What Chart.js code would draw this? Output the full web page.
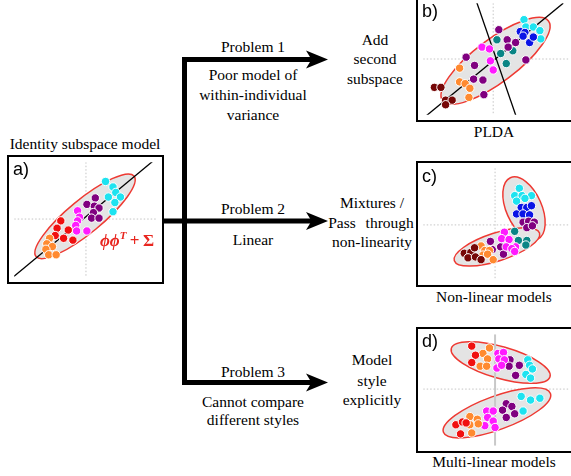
<!DOCTYPE html>
<html>
<head>
<meta charset="utf-8">
<script src="https://cdn.jsdelivr.net/npm/chart.js@4.4.1/dist/chart.umd.min.js"></script>
<style>
body{margin:0;background:#fff;}
#page{position:relative;width:571px;height:476px;overflow:hidden;font-family:"Liberation Serif","Times New Roman",serif;}
.box{position:absolute;border:2px solid #000;box-sizing:border-box;background:#fff;}
.box canvas{display:block;}
.t{position:absolute;transform:translate(-50%,-50%);white-space:nowrap;font-size:15.5px;line-height:1;color:#000;}
.lab{position:absolute;font-family:"Liberation Sans",Arial,sans-serif;font-size:18px;line-height:1;}
.eq{position:absolute;color:#e8261f;font-size:17px;font-weight:bold;white-space:nowrap;line-height:1;}
</style>
</head>
<body>
<div id="page">
<svg width="571" height="476" style="position:absolute;left:0;top:0">
  <g fill="#000">
    <rect x="162" y="218.5" width="150" height="5"/>
    <rect x="182" y="57" width="5" height="328"/>
    <rect x="182" y="57" width="130" height="5"/>
    <rect x="182" y="380" width="130" height="5"/>
    <polygon points="328,59.5 306,50.5 311.5,59.5 306,68.5"/>
    <polygon points="328,221 306,212 311.5,221 306,230"/>
    <polygon points="328,382.5 306,373.5 311.5,382.5 306,391.5"/>
  </g>
</svg>

<div class="t" style="left:85px;top:144px">Identity subspace model</div>
<div class="t" style="left:494px;top:132px">PLDA</div>
<div class="t" style="left:494px;top:297px">Non-linear models</div>
<div class="t" style="left:494px;top:462px">Multi-linear models</div>

<div class="t" style="left:253px;top:47px">Problem 1</div>
<div class="t" style="left:253px;top:75px">Poor model of</div>
<div class="t" style="left:253px;top:95px">within-individual</div>
<div class="t" style="left:253px;top:115px">variance</div>
<div class="t" style="left:375px;top:40px">Add</div>
<div class="t" style="left:375px;top:59px">second</div>
<div class="t" style="left:375px;top:79px">subspace</div>

<div class="t" style="left:253px;top:209px">Problem 2</div>
<div class="t" style="left:253px;top:240px">Linear</div>
<div class="t" style="left:372px;top:203px">Mixtures /</div>
<div class="t" style="left:371px;top:223px;word-spacing:6px">Pass through</div>
<div class="t" style="left:372px;top:242px">non-linearity</div>

<div class="t" style="left:253px;top:372px">Problem 3</div>
<div class="t" style="left:253px;top:402px">Cannot compare</div>
<div class="t" style="left:253px;top:420px">different styles</div>
<div class="t" style="left:372px;top:360px">Model</div>
<div class="t" style="left:372px;top:381px">style</div>
<div class="t" style="left:372px;top:400px">explicitly</div>
</div>

<script>
// all values in picture pixels (x right, y down)
// panel a: identity subspace model
const aCyan = [[107,178],[115,184],[118,190],[110,195],[123,195],[117,201],[115,211]];
const aPurple = [[96,196],[87,203],[95,205],[100,207],[94,212],[92,218],[100,218]];
const aMagenta = [[77,210],[79,217],[77,221],[75,226],[87,232],[76,232]];
const aRed = [[59,221],[55,229],[67,231],[53,237],[62,240],[72,242]];
const aOrange = [[47,240],[44,246],[50,249],[43,252],[46,258],[54,258]];
const aEllipses = [[85,216,68,18,39.4]];
const aLines = [[7,283,160,154]];

// panel b: PLDA
const bCyan = [[526,16],[528,24],[536,24],[543,28],[544,37]];
const bBlue = [[522,29],[527,30],[525,34],[532,41],[536,35]];
const bTeal = [[497,38],[501,53],[514,50],[507,64]];
const bPurple = [[499,27],[508,38],[517,41],[509,46],[464,57],[528,60],[473,66],[472,81],[482,82],[483,98]];
const bMagenta = [[481,46],[489,48],[490,61],[493,71]];
const bOrange = [[457,69],[457,84],[463,86],[468,91],[467,101]];
const bDarkred = [[430,90],[437,90],[442,104],[449,104],[442,109]];
const bEllipses = [[495.5,61,71,23,37]];
const bLines = [[419,123,568,-2],[475,-4,518,123]];

// panel c: non-linear models
const cCyan = [[521,185],[516,193],[524,193],[534,193],[527,196],[518,199]];
const cBlue = [[523,206],[529,206],[534,204],[518,213],[525,213],[532,214]];
const cPurple = [[525,222],[531,221],[537,222],[529,228],[535,226],[490,243],[492,252],[501,249],[504,257]];
const cTeal = [[516,232],[520,242],[529,242],[528,247]];
const cMagenta = [[505,233],[502,240],[510,241],[507,249],[517,249],[513,251],[516,254]];
const cOrange = [[480,248],[484,253],[489,253],[482,258],[487,257],[493,263]];
const cDarkred = [[462,256],[469,255],[473,250],[466,261],[474,260],[480,263]];
const cEllipses = [[526,207,36,19,-66],[497,249,48,15,18]];

// panel d: multi-linear models
const dRed = [[470,342],[474,352],[470,360],[453,428],[460,425],[464,426],[458,438]];
const dOrange = [[489,344],[482,350],[487,356],[479,364],[486,364],[468,419],[476,422],[468,428],[477,427],[470,437]];
const dMagenta = [[498,350],[504,349],[499,356],[505,357],[497,366],[502,363],[486,413],[493,413],[487,420],[493,424],[484,429],[495,431]];
const dPurple = [[511,357],[510,364],[521,363],[517,374],[507,405],[513,408],[503,412],[516,416],[507,420]];
const dCyan = [[530,357],[532,363],[535,367],[528,373],[533,377],[523,397],[533,401],[543,399],[525,413]];
const dEllipses = [[501,360,55,17,-16],[497,415,61,18,20]];

const colors = {
  cyan: '#1ee3f0', blue: '#0a14e6', purple: '#800080', magenta: '#ff1aff',
  red: '#f01010', orange: '#ff8a30', darkred: '#760808', teal: '#0a8585'
};

const shapes = {
  id: 'shapes',
  beforeDatasetsDraw(chart, args, opts) {
    const {ctx, chartArea: ca, scales: {x, y}} = chart;
    ctx.save();
    ctx.beginPath();
    ctx.rect(ca.left, ca.top, ca.width, ca.height);
    ctx.clip();
    // dotted crosshair
    const cx = x.getPixelForValue(opts.cross[0]);
    const cy = y.getPixelForValue(opts.cross[1]);
    ctx.strokeStyle = '#c4c4c4';
    ctx.lineWidth = 1;
    ctx.setLineDash([1.5, 2]);
    ctx.beginPath();
    ctx.moveTo(ca.left, cy); ctx.lineTo(ca.right, cy);
    if (!opts.solidV) { ctx.moveTo(cx, ca.top); ctx.lineTo(cx, ca.bottom); }
    ctx.stroke();
    ctx.setLineDash([]);
    // ellipses
    (opts.ellipses || []).forEach(e => {
      const px = x.getPixelForValue(e[0]), py = y.getPixelForValue(e[1]);
      const rx = Math.abs(x.getPixelForValue(e[0] + e[2]) - px);
      const ry = Math.abs(x.getPixelForValue(e[0] + e[3]) - px);
      ctx.beginPath();
      ctx.ellipse(px, py, rx, ry, -e[4] * Math.PI / 180, 0, Math.PI * 2);
      ctx.fillStyle = '#e4e4e4';
      ctx.fill();
      ctx.strokeStyle = '#ee3a33';
      ctx.lineWidth = 1.5;
      ctx.stroke();
    });
    if (opts.solidV) {
      ctx.strokeStyle = '#c8c8c8';
      ctx.lineWidth = 2;
      ctx.beginPath();
      ctx.moveTo(cx, ca.top); ctx.lineTo(cx, ca.bottom);
      ctx.stroke();
    }
    // black lines
    ctx.strokeStyle = '#000';
    ctx.lineWidth = 1.3;
    (opts.lines || []).forEach(l => {
      ctx.beginPath();
      ctx.moveTo(x.getPixelForValue(l[0]), y.getPixelForValue(l[1]));
      ctx.lineTo(x.getPixelForValue(l[2]), y.getPixelForValue(l[3]));
      ctx.stroke();
    });
    ctx.restore();
  }
};

function ds(arr, col) {
  return {
    data: arr.map(p => ({x: p[0], y: p[1]})),
    backgroundColor: colors[col],
    borderColor: '#fff',
    borderWidth: 1,
    pointRadius: 4.2
  };
}

function panel(box, label, sets, extra) {
  const page = document.getElementById('page');
  const div = document.createElement('div');
  div.className = 'box';
  div.style.left = box.left + 'px';
  div.style.top = box.top + 'px';
  div.style.width = box.w + 'px';
  div.style.height = box.h + 'px';
  const cv = document.createElement('canvas');
  cv.width = box.w - 4;
  cv.height = box.h - 4;
  div.appendChild(cv);
  page.appendChild(div);

  const lab = document.createElement('div');
  lab.className = 'lab';
  lab.textContent = label;
  lab.style.left = (box.left + 6) + 'px';
  lab.style.top = (box.labTop) + 'px';
  page.appendChild(lab);

  new Chart(cv, {
    type: 'scatter',
    data: { datasets: sets },
    options: {
      responsive: false,
      animation: false,
      events: [],
      layout: { padding: 0 },
      scales: {
        x: { type: 'linear', display: false, min: box.left + 2, max: box.left + box.w - 2 },
        y: { type: 'linear', display: false, reverse: true, min: box.top + 2, max: box.top + box.h - 2 }
      },
      plugins: { legend: { display: false }, tooltip: { enabled: false }, shapes: extra }
    },
    plugins: [shapes]
  });
}

panel({left: 7, top: 155, w: 157, h: 129, labTop: 160}, 'a)',
  [ds(aOrange, 'orange'), ds(aRed, 'red'), ds(aMagenta, 'magenta'), ds(aPurple, 'purple'), ds(aCyan, 'cyan')],
  {cross: [86, 219], ellipses: aEllipses, lines: aLines});

panel({left: 416, top: -4, w: 160, h: 126, labTop: 2}, 'b)',
  [ds(bDarkred, 'darkred'), ds(bOrange, 'orange'), ds(bMagenta, 'magenta'), ds(bPurple, 'purple'),
   ds(bTeal, 'teal'), ds(bBlue, 'blue'), ds(bCyan, 'cyan')],
  {cross: [493, 59], ellipses: bEllipses, lines: bLines});

panel({left: 416, top: 161, w: 160, h: 126, labTop: 167}, 'c)',
  [ds(cDarkred, 'darkred'), ds(cOrange, 'orange'), ds(cMagenta, 'magenta'), ds(cTeal, 'teal'),
   ds(cPurple, 'purple'), ds(cBlue, 'blue'), ds(cCyan, 'cyan')],
  {cross: [495, 225], ellipses: cEllipses, lines: []});

panel({left: 416, top: 327, w: 160, h: 126, labTop: 332}, 'd)',
  [ds(dRed, 'red'), ds(dOrange, 'orange'), ds(dMagenta, 'magenta'), ds(dPurple, 'purple'), ds(dCyan, 'cyan')],
  {cross: [495, 389], ellipses: dEllipses, lines: [], solidV: true});

// red formula in panel a
const eq = document.createElement('div');
eq.className = 'eq';
eq.style.left = '100px';
eq.style.top = '230px';
eq.innerHTML = '<i>&#981;&#981;</i><sup style="font-size:11px;font-style:italic">T</sup>&#8201;+&#8201;&#931;';
document.getElementById('page').appendChild(eq);
</script>
</body>
</html>
